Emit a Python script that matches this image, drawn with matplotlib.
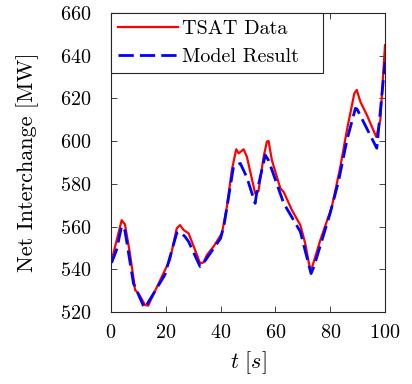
import matplotlib
matplotlib.use("Agg")
import matplotlib.pyplot as plt

plt.rcParams['font.family'] = ['cmr10', 'DejaVu Serif']
plt.rcParams['mathtext.fontset'] = 'cm'
plt.rcParams['axes.unicode_minus'] = False
plt.rcParams['axes.formatter.use_mathtext'] = True

t_tsat = [0.2, 2.1, 3.9, 5.1, 6.9, 8.8, 10, 12.4, 13.6, 14.8, 19.1, 21.5, 24, 25.2, 26.5, 28.3, 30.7, 32.5,
          33.8, 35, 37.4, 40.5, 42.3, 44.1, 45.7, 46.6, 48.4, 49.6, 52.6, 53.8, 55.7, 56.9, 57.5, 58.7,
          61.8, 63, 66, 69.1, 70.9, 72.7, 73.4, 76.4, 80.6, 83.7, 86.1, 88.8, 89.7, 91, 93.4, 96.8, 98.3, 100]
v_tsat = [544, 553.7, 563, 561, 547.5, 530.3, 528.8, 523.3, 523, 526.4, 538, 544.4, 559.2, 560.7, 558.4, 556.9,
          549, 542.8, 543.2, 546.7, 550.6, 556.9, 569.3, 586.5, 596.2, 594.3, 596.2, 592.7, 575.6, 576.5,
          592.7, 599.8, 600.1, 591.2, 577.9, 576.3, 567.8, 560.7, 552, 539.7, 541, 553.7, 569.3, 588,
          605.2, 622.4, 624, 618.5, 612.2, 602, 610, 645]

t_model = [0.2, 2, 3.9, 5.1, 8.2, 11.8, 12.4, 19.7, 24, 25.2, 27, 28.3, 32.5, 33.8, 40, 41.3, 44.7, 47.2,
           49.6, 52.6, 53.2, 56.3, 57.5, 63, 69.1, 73, 74, 80, 83, 86.1, 89.2, 89.8, 97, 100]
v_model = [543, 549, 560.3, 558, 533.4, 523, 522, 537.5, 557, 557.5, 555.3, 553, 541.3, 543, 554.5, 561,
           588, 589.6, 583, 570.9, 576, 593.5, 591, 571, 557.6, 538, 541, 566.3, 581, 600.5, 615.4, 615,
           596.7, 637]

xticks = [0, 20, 40, 60, 80, 100]
yticks = [520, 540, 560, 580, 600, 620, 640, 660]

fig = plt.figure(figsize=(4.12, 3.84), dpi=100)
ax = fig.add_axes([0.2694, 0.1875, 0.6651, 0.7785])

ax.plot(t_tsat, v_tsat, color='#ff0000', lw=1.6, label='TSAT Data')
ax.plot(t_model, v_model, color='#0000ff', lw=2.0, dashes=[5.5, 2.2], label='Model Result')

ax.set_xlim(0, 100)
ax.set_ylim(520, 660)
ax.set_xticks(xticks)
ax.set_yticks(yticks)
ax.tick_params(direction='in', top=True, right=True, labelsize=14.5, length=4, width=0.6,
               colors='#262626', labelcolor='black')
ax.tick_params(axis='x', pad=9)
ax.tick_params(axis='y', pad=14)
for s in ax.spines.values():
    s.set_linewidth(0.8)
    s.set_color('#262626')

ax.set_xlabel(r'$t\ [s]$', fontsize=16, labelpad=5)
ax.set_ylabel('Net Interchange [MW]', fontsize=16, labelpad=15)

leg = ax.legend(loc='upper left', fontsize=14.5, frameon=True, fancybox=False, borderaxespad=0,
                bbox_to_anchor=(0, 0, 0.772, 1), mode='expand',
                handlelength=3.0, handletextpad=0.18, borderpad=0.35, labelspacing=0.5, framealpha=1)
leg.get_frame().set_edgecolor('#262626')
leg.get_frame().set_linewidth(0.8)

fig.savefig('out.png', dpi=100)
